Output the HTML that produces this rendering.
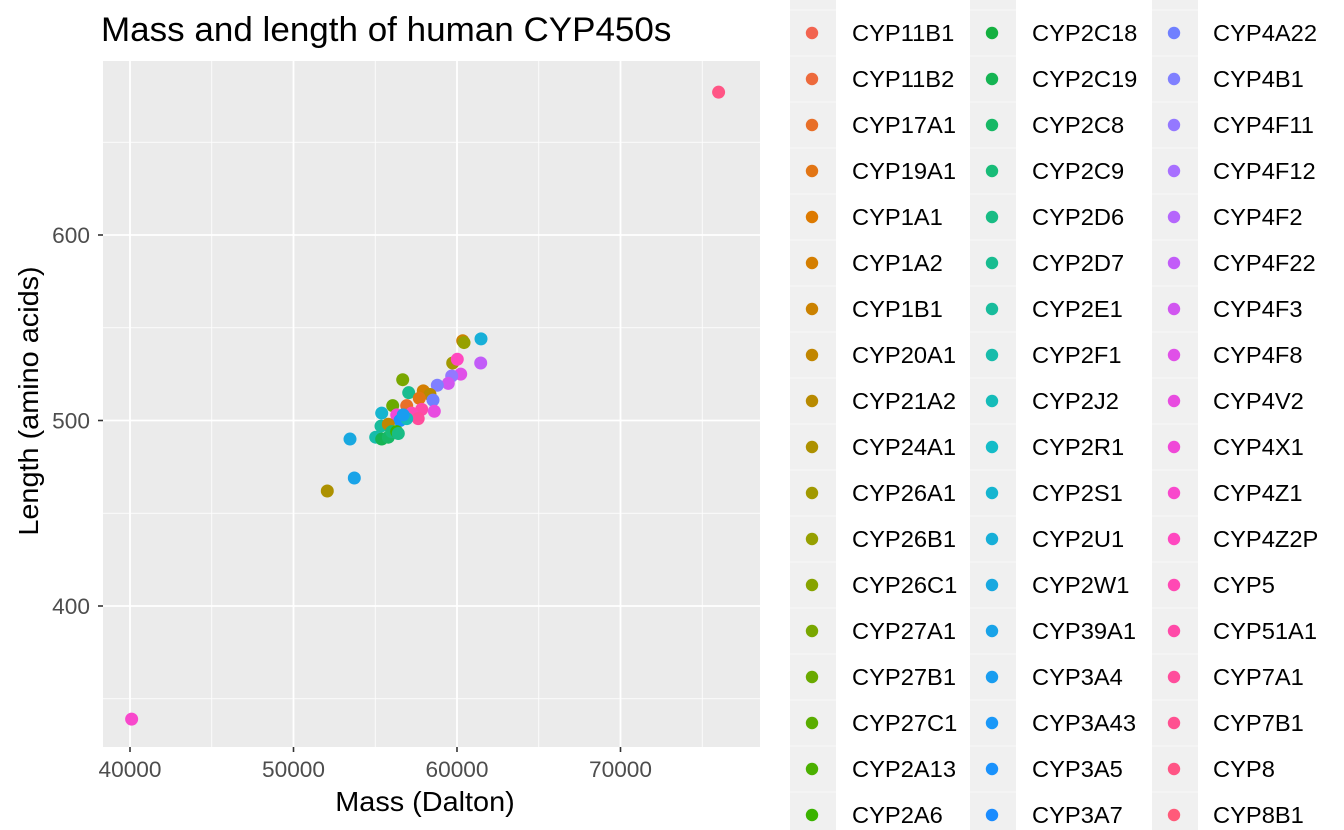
<!DOCTYPE html>
<html><head><meta charset="utf-8"><style>
html,body{margin:0;padding:0;background:#fff;}
svg{display:block;font-family:"Liberation Sans",Arial,sans-serif;}
</style></head><body>
<svg id="chart" width="1344" height="830" viewBox="0 0 1344 830">
<text class="w" x="101" y="41" font-size="34" fill="#000">Mass and length of human CYP450s</text>
<rect x="103" y="61" width="657" height="686" fill="#EBEBEB"/>
<g id="grid"></g>
<g id="axes"></g>
<g id="points"></g>
<text class="w" x="425" y="811" font-size="28" text-anchor="middle" fill="#000">Mass (Dalton)</text>
<text class="w" transform="translate(38,401) rotate(-90)" font-size="28" text-anchor="middle" fill="#000">Length (amino acids)</text>
<g id="legend"></g>
</svg>
<script>
const categories = ["CYP11B1","CYP11B2","CYP17A1","CYP19A1","CYP1A1","CYP1A2","CYP1B1","CYP20A1","CYP21A2","CYP24A1","CYP26A1","CYP26B1","CYP26C1","CYP27A1","CYP27B1","CYP27C1","CYP2A13","CYP2A6",
"CYP2C18","CYP2C19","CYP2C8","CYP2C9","CYP2D6","CYP2D7","CYP2E1","CYP2F1","CYP2J2","CYP2R1","CYP2S1","CYP2U1","CYP2W1","CYP39A1","CYP3A4","CYP3A43","CYP3A5","CYP3A7",
"CYP4A22","CYP4B1","CYP4F11","CYP4F12","CYP4F2","CYP4F22","CYP4F3","CYP4F8","CYP4V2","CYP4X1","CYP4Z1","CYP4Z2P","CYP5","CYP51A1","CYP7A1","CYP7B1","CYP8","CYP8B1"];
const pointNames = ["CYP1B1","CYP26B1","CYP2U1","CYP26A1","CYP4Z2P","CYP4F22","CYP4F8","CYP4F11","CYP4F3","CYP4B1","CYP27A1","CYP2D7","CYP1A2","CYP21A2","CYP19A1","CYP4A22","CYP27B1","CYP17A1","CYP2S1","CYP51A1","CYP4V2","CYP5","CYP4X1","CYP7A1","CYP3A5","CYP2J2","CYP3A4","CYP2E1","CYP20A1","CYP2F1","CYP2C19","CYP2C8","CYP2C9","CYP2A6","CYP2D6","CYP2W1","CYP39A1","CYP24A1","CYP8","CYP4Z1"];
const massValues = [60349,60428,61468,59737,60018,61450,60226,59676,59468,58795,56679,57046,57939,58349,57694,58532,56067,56924,55394,57841,58612,57229,56312,57627,56514,56924,56709,55352,55798,55028,55394,55798,56006,56312,56410,53456,53719,52067,76000,40100];
const lengthValues = [543,542,544,531,533,531,525,524,520,519,522,515,516,514,512,511,508,508,504,506,505,504,503,501,500,501,503,497,498,491,490,491,494,494,493,490,469,462,677,339];
const xTicks = [40000,50000,60000,70000];
const xMinor = [45000,55000,65000,75000];
const yTicks = [400,500,600];
const yMinor = [350,450,550,650];

const colorStops = [[0,"#F26450"],[4,"#DD7A00"],[8,"#B88A00"],[11,"#96A000"],[14,"#6AAA00"],[17,"#3BB300"],[18,"#14B040"],[21,"#18BC78"],[24,"#18BC9C"],[27,"#14BCC8"],[30,"#18A8E0"],[33,"#1A98F8"],[35,"#1A8CFF"],[36,"#7080FF"],[37,"#8080FF"],[39,"#A870FF"],[41,"#C25CF8"],[43,"#E050E8"],[45,"#F048D8"],[47,"#FF48C0"],[49,"#FF4AA8"],[51,"#FF5090"],[53,"#FF5A7A"]];

const NS="http://www.w3.org/2000/svg";
const SX=1.03;
function xs(v){return 130+(v-40000)*163.5/10000;}
function ys(v){return 420.5-(v-500)*1.855;}
function hex2(h){return [1,3,5].map(i=>parseInt(h.substr(i,2),16));}
function colorOf(name){
  const i=categories.indexOf(name);
  for(let k=0;k<colorStops.length-1;k++){
    const [a,ca]=colorStops[k],[b,cb]=colorStops[k+1];
    if(i>=a&&i<=b){const t=(i-a)/(b-a),A=hex2(ca),B=hex2(cb);
      return "rgb("+A.map((v,j)=>Math.round(v+(B[j]-v)*t)).join(",")+")";}
  }
  return colorStops[colorStops.length-1][1];
}
function mk(tag,attrs,parent){const e=document.createElementNS(NS,tag);for(const k in attrs)e.setAttribute(k,attrs[k]);parent.appendChild(e);return e;}
function widen(t){const w=t.getComputedTextLength();t.setAttribute('textLength',w*SX);t.setAttribute('lengthAdjust','spacingAndGlyphs');}

const grid=document.getElementById('grid');
xMinor.forEach(v=>{const l=mk('line',{x1:xs(v),x2:xs(v),y1:61,y2:747,stroke:'#fff','stroke-width':0.8},grid);

});
yMinor.forEach(v=>{const l=mk('line',{x1:103,x2:760,y1:ys(v),y2:ys(v),stroke:'#fff','stroke-width':0.8},grid);

});
const axes=document.getElementById('axes');
xTicks.forEach(v=>{const l=mk('line',{x1:xs(v),x2:xs(v),y1:61,y2:747,stroke:'#fff','stroke-width':1.8},grid);


const t=mk('line',{x1:xs(v),x2:xs(v),y1:747,y2:752,stroke:'#333','stroke-width':1.6},axes);


const tx=mk('text',{x:xs(v),y:777,'font-size':22,'text-anchor':'middle',fill:'#4D4D4D','class':'w'},axes);tx.textContent=v;

});
yTicks.forEach(v=>{const l=mk('line',{x1:103,x2:760,y1:ys(v),y2:ys(v),stroke:'#fff','stroke-width':1.8},grid);


const t=mk('line',{x1:98,x2:103,y1:ys(v),y2:ys(v),stroke:'#333','stroke-width':1.6},axes);


const tx=mk('text',{x:90,y:ys(v)+8,'font-size':22,'text-anchor':'end',fill:'#4D4D4D','class':'w'},axes);tx.textContent=v;

});

const pts=document.getElementById('points');
pointNames.forEach((n,i)=>{const c=mk('circle',{cx:xs(massValues[i]),cy:ys(lengthValues[i]),r:6.5,fill:colorOf(n)},pts);

});

const leg=document.getElementById('legend');
const colKeyX=[790,970,1152], colTextX=[852,1032,1213];
for(let c=0;c<3;c++){const r=mk('rect',{x:colKeyX[c],y:0,width:46,height:830,fill:'#F0F0F0'},leg);

}
categories.forEach((n,i)=>{const c=Math.floor(i/18),row=i%18,y=33+row*46;
const g=mk('g',{},leg);


mk('line',{x1:colKeyX[c],x2:colKeyX[c]+46,y1:y-23,y2:y-23,stroke:'#fff','stroke-width':0.6},g);
mk('circle',{cx:colKeyX[c]+22,cy:y,r:6.2,fill:colorOf(n)},g);
const t=mk('text',{x:colTextX[c],y:y+8,'font-size':23,fill:'#000','class':'w'},g);t.textContent=n;});
document.querySelectorAll('text.w').forEach(widen);
</script>
</body></html>
